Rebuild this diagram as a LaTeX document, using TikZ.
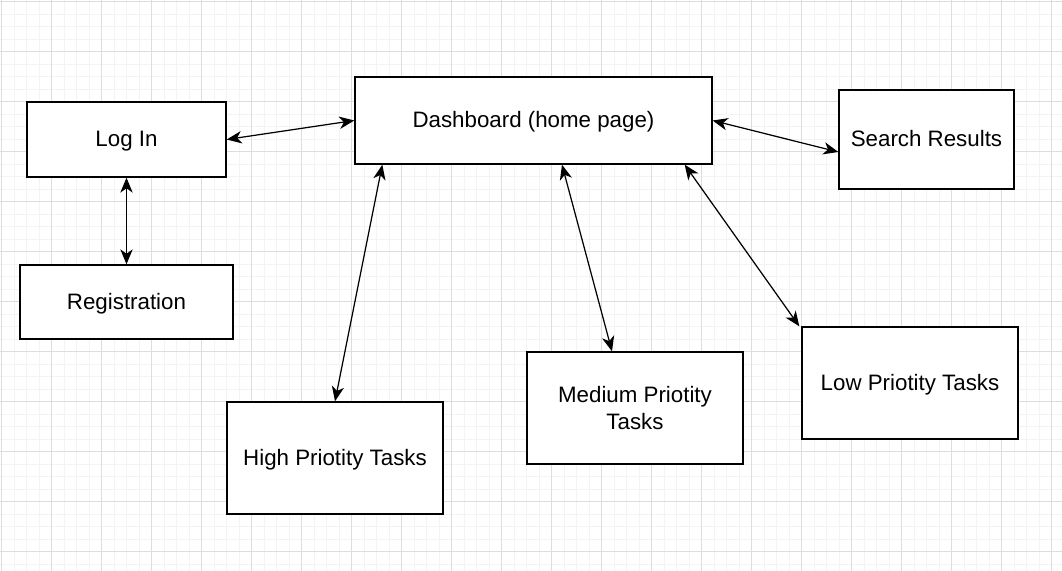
\documentclass[tikz,border=0pt]{standalone}
\usepackage{fontspec}
\setmainfont{Liberation Sans}
\usepackage{tikz}
\usetikzlibrary{arrows,arrows.meta}
\definecolor{minorgrid}{HTML}{F3F3F3}
\definecolor{majorgrid}{HTML}{DDDDDD}

\begin{document}
\begin{tikzpicture}[>={Stealth[length=8.5pt,width=7pt,inset=2.5pt]},x=0.02cm,y=-0.02cm,
	page/.style={draw,fill=white,line width=0.8pt,inner sep=0pt,align=center,
		font=\fontsize{12.7}{15.5}\selectfont},
	oneline/.style={text height=0.85em,text depth=0pt},
	link/.style={<->,line width=0.7pt}]
	\useasboundingbox (0,0) rectangle (1062,571);
	% background grid
	\foreach \i in {0,...,84} {
		\draw[minorgrid,line width=0.5pt] ({1.5+12.5*\i},0) -- ++(0,571);}
	\foreach \i in {0,...,45} {
		\draw[minorgrid,line width=0.5pt] (0,{1.5+12.5*\i}) -- ++(1062,0);}
	\foreach \i in {0,...,21} {
		\draw[majorgrid,line width=0.5pt] ({1.5+50*\i},0) -- ++(0,571);}
	\foreach \i in {0,...,11} {
		\draw[majorgrid,line width=0.5pt] (0,{1.5+50*\i}) -- ++(1062,0);}

	\node[page,oneline,minimum width=3.98cm,minimum height=1.5cm]  (login) at (126.5,139.5) {Log In};
	\node[page,oneline,minimum width=4.26cm,minimum height=1.48cm] (reg)   at (126.5,302)   {Registration};
	\node[page,oneline,minimum width=7.14cm,minimum height=1.74cm] (dash)  at (533.5,120.5) {Dashboard (home page)};
	\node[page,oneline,minimum width=3.5cm,minimum height=1.98cm]  (search) at (926.5,139.5) {Search Results};
	\node[page,oneline,minimum width=4.32cm,minimum height=2.24cm] (high)  at (335,458) {High Priotity Tasks};
	\node[page,minimum width=4.32cm,minimum height=2.24cm] (medium) at (635,408) {Medium Priotity\\Tasks};
	\node[page,oneline,minimum width=4.32cm,minimum height=2.24cm] (low)   at (910,383) {Low Priotity Tasks};

	\draw[link] (login.east) -- (dash.west);
	\draw[link] (login.south) -- (reg.north);
	\draw[link] (dash.east) -- ([yshift=-0.25cm]search.west);
	\draw[link] ([xshift=0.56cm]dash.south west) -- (high.north);
	\draw[link] ([xshift=0.57cm]dash.south) -- ([xshift=-0.46cm]medium.north);
	\draw[link] ([xshift=-0.56cm]dash.south east) -- ([xshift=-0.04cm]low.north west);
\end{tikzpicture}
\end{document}
